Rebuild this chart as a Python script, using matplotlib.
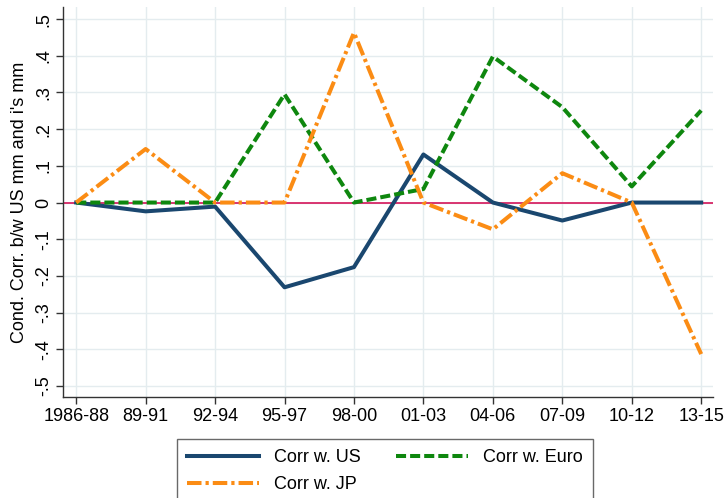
import matplotlib.pyplot as plt
import numpy as np

plt.rcParams['font.family'] = ['Liberation Sans', 'DejaVu Sans']

periods = ['1986-88', '89-91', '92-94', '95-97', '98-00',
           '01-03', '04-06', '07-09', '10-12', '13-15']
corr_us = [0.0, -0.024, -0.011, -0.231, -0.176, 0.131, 0.0, -0.049, 0.0, 0.0]
corr_euro = [0.0, 0.0, 0.0, 0.295, 0.0, 0.037, 0.398, 0.26, 0.044, 0.251]
corr_jp = [0.0, 0.146, 0.0, 0.0, 0.463, 0.0, -0.073, 0.08, 0.0, -0.413]
yticks = [-0.5, -0.4, -0.3, -0.2, -0.1, 0.0, 0.1, 0.2, 0.3, 0.4, 0.5]
ytick_labels = ['-.5', '-.4', '-.3', '-.2', '-.1', '0', '.1', '.2', '.3', '.4', '.5']

x = np.arange(len(periods))
fs = 13
lw = 2.9

fig = plt.figure(figsize=(7.28, 4.98), dpi=100)
ax = fig.add_axes([63 / 728, 101 / 498, 650 / 728, 390 / 498])

grid_col = '#e4ecef'
for t in yticks:
    ax.axhline(t, color=grid_col, lw=1.0, zorder=0)
for xi in x:
    ax.axvline(xi, color=grid_col, lw=1.0, zorder=0)

# reference line at zero
ax.axhline(0, color='#d4145a', lw=1.2, zorder=1)

l_us, = ax.plot(x, corr_us, color='#1a476f', lw=lw, label='Corr w. US',
                solid_joinstyle='round', zorder=3)
l_eu, = ax.plot(x, corr_euro, color='#0e870e', lw=lw, label='Corr w. Euro',
                dashes=(2.5, 1.0), zorder=3)
l_jp, = ax.plot(x, corr_jp, color='#fb8c14', lw=lw, label='Corr w. JP',
                dashes=(3.6, 1.0, 0.8, 1.0), zorder=3)

ax.set_xlim(-0.19, len(periods) - 1 + 0.17)
ax.set_ylim(-0.530, 0.533)
ax.set_xticks(x)
ax.set_xticklabels(periods, fontsize=fs)
ax.set_yticks(yticks)
ax.set_yticklabels(ytick_labels, fontsize=fs, rotation=90, va='center')
ax.set_ylabel("Cond. Corr. b/w US mm and i's mm", fontsize=fs, labelpad=5)

for side in ['top', 'right']:
    ax.spines[side].set_visible(False)
for side in ['left', 'bottom']:
    ax.spines[side].set_color('#333333')
    ax.spines[side].set_linewidth(1.0)
ax.tick_params(length=5, width=1.0, color='#333333', pad=3)

# order handles so the two-column legend reads US, Euro / JP
leg = fig.legend(handles=[l_us, l_jp, l_eu], loc='upper left',
                 bbox_to_anchor=(177 / 728, 1 - 439 / 498), ncol=2,
                 fontsize=fs, frameon=True, fancybox=False,
                 edgecolor='#444444', handlelength=4.0, handletextpad=0.85,
                 columnspacing=1.9, borderpad=0.55, labelspacing=0.55,
                 borderaxespad=0)
leg.get_frame().set_linewidth(1.0)

fig.savefig('out.png', dpi=100, facecolor='white')
